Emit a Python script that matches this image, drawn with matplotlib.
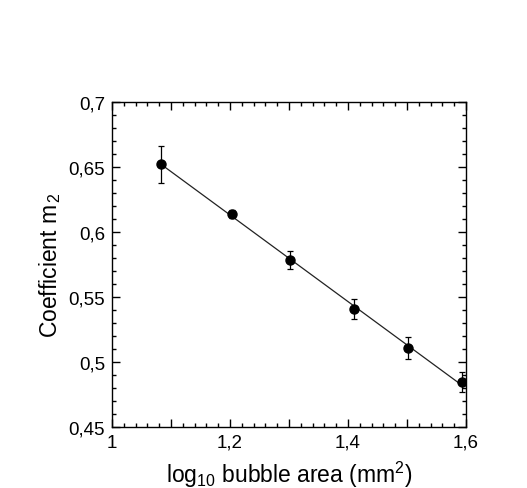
import numpy as np
import matplotlib
matplotlib.use('Agg')
import matplotlib.pyplot as plt
from matplotlib.ticker import MultipleLocator, FuncFormatter

plt.rcParams['font.family'] = ['Liberation Sans', 'DejaVu Sans']
plt.rcParams['mathtext.fontset'] = 'custom'
plt.rcParams['mathtext.rm'] = 'Liberation Sans'
plt.rcParams['mathtext.it'] = 'Liberation Sans'

# data
log_area = [1.083, 1.204, 1.302, 1.410, 1.501, 1.594]
m2 = [0.652, 0.614, 0.5785, 0.541, 0.511, 0.4845]
m2_err = [0.0145, 0.003, 0.007, 0.0077, 0.0083, 0.0077]
x_err = [0.004, 0.004, 0.004, 0.004, 0.004, 0.004]

fig = plt.figure(figsize=(5.27, 4.89), dpi=100)
ax = fig.add_axes([0.2125, 0.1247, 0.6717, 0.6646])

# linear fit
p = np.polyfit(log_area, m2, 1)
xf = np.array([log_area[0], log_area[-1]])
ax.plot(xf, np.polyval(p, xf), color='#222222', lw=0.9)

ax.errorbar(log_area, m2, yerr=m2_err, xerr=x_err, fmt='o', color='black',
            ms=6.5, elinewidth=0.9, capsize=2.5, capthick=0.9)

ax.set_xlim(1, 1.6)
ax.set_ylim(0.45, 0.7)

def comma(v, pos):
    return ('%g' % round(v, 3)).replace('.', ',')

def comma_x(v, pos):
    if round(v * 10) % 2 != 0:
        return ''
    return comma(v, pos)

ax.xaxis.set_major_locator(MultipleLocator(0.1))
ax.xaxis.set_minor_locator(MultipleLocator(0.02))
ax.xaxis.set_major_formatter(FuncFormatter(comma_x))
ax.yaxis.set_major_locator(MultipleLocator(0.05))
ax.yaxis.set_minor_locator(MultipleLocator(0.01))
ax.yaxis.set_major_formatter(FuncFormatter(comma))

ax.tick_params(which='both', direction='in', top=True, right=True, labelsize=13.5, width=1)
ax.tick_params(which='major', length=6, pad=5)
ax.tick_params(which='minor', length=3)
for s in ax.spines.values():
    s.set_linewidth(1)

ax.set_xlabel(r'log$_{10}$ bubble area (mm$^2$)', fontsize=16.5, labelpad=6)
ax.set_ylabel(r'Coefficient m$_{\,2}$', fontsize=16.5, labelpad=4)

fig.savefig('out.png', dpi=100)
